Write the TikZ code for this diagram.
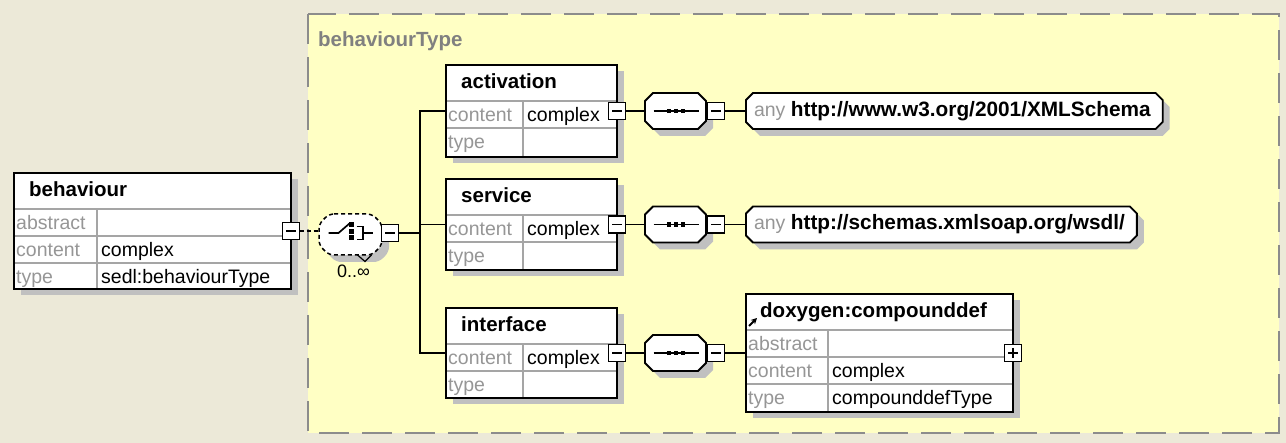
\documentclass[tikz,border=0pt]{standalone}
\usepackage{fontspec}
\setmainfont{Liberation Sans}
\usetikzlibrary{calc,arrows.meta}

\definecolor{canvasbg}{RGB}{236,233,216}
\definecolor{typearea}{RGB}{255,255,196}
\definecolor{areaborder}{RGB}{140,140,140}
\definecolor{shadowgray}{RGB}{192,192,192}
\definecolor{keygray}{RGB}{150,150,150}
\definecolor{rowgray}{RGB}{165,165,165}
\definecolor{titlegray}{RGB}{128,128,128}

\pgfdeclarelayer{base}
\pgfdeclarelayer{shade}
\pgfdeclarelayer{outline}
\pgfsetlayers{base,shade,outline,main}

\tikzset{
  boxline/.style={draw=black, line width=2},
  rowline/.style={draw=rowgray, line width=1.3},
  conn/.style={draw=black, line width=1.8},
  elembox/.style={fill=white, inner sep=0, outer sep=0},
  titletext/.style={font=\fontsize{20.5}{22}\selectfont\bfseries, inner sep=0},
  keytext/.style={font=\fontsize{19.5}{21}\selectfont, text=keygray, inner sep=0},
  valtext/.style={font=\fontsize{19.5}{21}\selectfont, inner sep=0},
  togglebox/.style={draw=black, fill=white, line width=1.5, minimum size=17, inner sep=0, outer sep=0},
  minusbox/.style={togglebox, path picture={
      \draw[line width=1.5] ($(path picture bounding box.west)+(3.5,0)$) -- ($(path picture bounding box.east)+(-3.5,0)$);}},
  plusbox/.style={togglebox, path picture={
      \draw[line width=1.5] ($(path picture bounding box.west)+(3.5,0)$) -- ($(path picture bounding box.east)+(-3.5,0)$)
                            ($(path picture bounding box.north)+(0,3.5)$) -- ($(path picture bounding box.south)+(0,-3.5)$);}},
  seqbox/.style={minimum width=61, minimum height=36, inner sep=0, outer sep=0},
  anybox/.style={inner xsep=8, inner ysep=0, minimum height=36, anchor=west, outer sep=0,
                 font=\fontsize{19.5}{21}\selectfont},
}

% chamfered outline around a node: node, chamfer, x offset, y offset
\newcommand\octapath[4]{%
  ($(#1.north west)+(#2+#3,#4)$) -- ($(#1.north east)+(-#2+#3,#4)$) --
  ($(#1.north east)+(#3,#2+#4)$) -- ($(#1.south east)+(#3,-#2+#4)$) --
  ($(#1.south east)+(-#2+#3,#4)$) -- ($(#1.south west)+(#2+#3,#4)$) --
  ($(#1.south west)+(#3,-#2+#4)$) -- ($(#1.north west)+(#3,#2+#4)$) -- cycle}

% schema element box: name, west position, width, height, key column, title, rows
\newcommand\xsdelem[7]{%
  \node[elembox, minimum width=#3, minimum height=#4, anchor=west] (#1) at #2 {};
  \begin{pgfonlayer}{shade}
    \fill[shadowgray] ($(#1.north west)+(7,6)$) rectangle ($(#1.south east)+(7,6)$);
  \end{pgfonlayer}
  \node[titletext, anchor=base west] (#1-title) at ($(#1.north west)+(15,24)$) {#6};
  \foreach \k/\v [count=\i] in {#7} {
    \draw[rowline] ($(#1.north west)+(0,9+27*\i)$) -- ($(#1.north east)+(0,9+27*\i)$);
    \node[keytext, anchor=base west] (#1-key\i) at ($(#1.north west)+(2,29.5+27*\i)$) {\k};
    \node[valtext, anchor=base west] (#1-val\i) at ($(#1.north west)+(#5+4,29.5+27*\i)$) {\v};
  }
  \draw[rowline] ($(#1.north west)+(#5,36)$) -- ($(#1.south west)+(#5,0)$);
  \draw[boxline] (#1.north west) rectangle (#1.south east);
}

% sequence compositor: name, centre
\newcommand\seqcomp[2]{%
  \node[seqbox] (#1) at #2 {};
  \begin{pgfonlayer}{shade}
    \fill[shadowgray] \octapath{#1}{8}{7}{7};
  \end{pgfonlayer}
  \draw[boxline, fill=white, line width=1.8] \octapath{#1}{8}{0}{0};
  \begin{scope}[shift={(#1.center)}]
    \draw[line width=1.5] (-22,0) -- (23,0);
    \foreach \d in {-6.5,0.5,7.5}
      \fill (\d-2.25,-2.25) rectangle ++(4.5,4.5);
  \end{scope}
}

% wildcard box outline: name
\newcommand\anyframe[1]{%
  \begin{pgfonlayer}{shade}
    \fill[shadowgray] \octapath{#1}{7}{7}{7};
  \end{pgfonlayer}
  \begin{pgfonlayer}{outline}
    \draw[boxline, fill=white, line width=1.8] \octapath{#1}{7}{0}{0};
  \end{pgfonlayer}
}

\begin{document}
\begin{tikzpicture}[x=1pt, y=-1pt]
  \useasboundingbox (0,0) rectangle (1286,443);
  \begin{pgfonlayer}{base}
    \fill[canvasbg] (0,0) rectangle (1286,443);
    \draw[areaborder, fill=typearea, line width=2, dash pattern=on 30pt off 13pt]
      (308,14) rectangle (1279,433);
  \end{pgfonlayer}
  \node[text=titlegray, font=\fontsize{20.5}{22}\selectfont\bfseries, inner sep=0, anchor=base west]
    (typename) at (318,47) {behaviourType};

  % root element and its optional choice
  \xsdelem{beh}{(14,231)}{277}{116}{83}{behaviour}
    {abstract/, content/complex, type/sedl:behaviourType}
  \node[minusbox] (bmin) at (beh.east) {};

  \node[minimum width=63, minimum height=41, inner sep=0, outer sep=0] (comp) at (350.5,234.5) {};
  \begin{pgfonlayer}{shade}
    \fill[shadowgray, rounded corners=5] \octapath{comp}{10}{7}{7};
  \end{pgfonlayer}
  \draw[fill=white, line width=1.5, dash pattern=on 4pt off 3pt, rounded corners=5] \octapath{comp}{10}{0}{0};
  \begin{scope}[shift={(comp.center)}]
    \draw[line width=1.7] (-22,-1.5) -- (-12,-1.5) -- (-1,-11);
    \foreach \y in {-9.5,-3,3.5}
      \fill (-2,\y-2.5) rectangle ++(5,5);
    \draw[line width=1.7] (6,-8) -- (12.5,-8) -- (12.5,5) -- (6,5);
    \draw[line width=1.7] (12.5,-1.5) -- (22.5,-1.5);
    \draw[line width=1.2] (7,20.5) -- (14.5,27) -- (21,20.5);
  \end{scope}
  \node[font=\fontsize{18}{20}\selectfont, anchor=base, inner sep=0] (card) at (353.5,277.5) {0..∞};
  \node[minusbox] (cmin) at ($(comp.east)+(8,-1.5)$) {};

  % child elements
  \xsdelem{act}{(446,111)}{171}{92}{77}{activation}{content/complex, type/}
  \xsdelem{srv}{(446,224.5)}{171}{91}{77}{service}{content/complex, type/}
  \xsdelem{ifc}{(446,353)}{171}{90}{77}{interface}{content/complex, type/}
  \node[minusbox] (amin) at (act.east) {};
  \node[minusbox] (smin) at (srv.east) {};
  \node[minusbox] (imin) at (ifc.east) {};

  % sequences below each child
  \seqcomp{aseq}{($(act.east)+(58.5,0)$)}
  \seqcomp{sseq}{($(srv.east)+(58.5,0)$)}
  \seqcomp{iseq}{($(ifc.east)+(58.5,0)$)}
  \node[minusbox] (amin2) at ($(aseq.east)+(10,0)$) {};
  \node[minusbox] (smin2) at ($(sseq.east)+(10,0)$) {};
  \node[minusbox] (imin2) at ($(iseq.east)+(10,0)$) {};

  % wildcards
  \node[anybox] (any1) at ($(aseq.east)+(40,0)$)
    {\textcolor{keygray}{any} {\fontsize{20.8}{22}\selectfont\bfseries http://www.w3.org/2001/XMLSchema}\hspace*{4pt}};
  \anyframe{any1}
  \node[anybox] (any2) at ($(sseq.east)+(40,0)$)
    {\textcolor{keygray}{any} {\fontsize{20.8}{22}\selectfont\bfseries http://schemas.xmlsoap.org/wsdl/}\hspace*{4pt}};
  \anyframe{any2}

  % referenced element
  \xsdelem{dox}{($(iseq.east)+(40,0)$)}{267}{118}{82}{\hspace*{-1pt}doxygen:compounddef}
    {abstract/, content/complex, type/compounddefType}
  \draw[line width=2, -{Stealth[length=6pt,width=6pt]}]
    ($(dox.north west)+(3,32)$) -- ($(dox.north west)+(11,24)$);
  \node[plusbox] (doxplus) at (dox.east) {};

  % connectors
  \draw[line width=1.5, dash pattern=on 4pt off 3pt] (bmin.east) -- (bmin.east -| comp.west);
  \coordinate (tk) at ($(act.west)+(-26,0)$);
  \draw[conn] (act.west) -- (tk) |- (ifc.west);
  \draw[conn] (srv.west) -- (srv.west -| tk);
  \draw[conn] (cmin.east) -- (cmin.east -| tk);
  \draw[conn] (amin.east) -- (aseq.west);
  \draw[conn] (smin.east) -- (sseq.west);
  \draw[conn] (imin.east) -- (iseq.west);
  \draw[conn] (amin2.east) -- (any1.west);
  \draw[conn] (smin2.east) -- (any2.west);
  \draw[conn] (imin2.east) -- (dox.west);
\end{tikzpicture}
\end{document}
